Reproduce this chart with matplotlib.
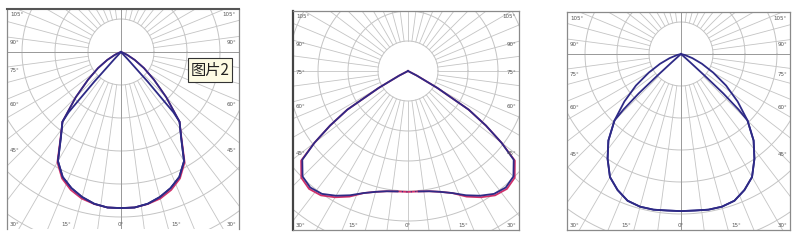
import numpy as np
import matplotlib.pyplot as plt

plt.rcParams['font.family'] = ['Noto Sans CJK SC', 'DejaVu Sans']

# luminous intensity, cd/klm, half-curves (symmetric), angle from nadir in degrees
p1_ang_a = [0, 5, 10, 15, 20, 25, 30, 35, 40, 45, 50, 55, 60, 65, 70, 75, 90]
p1_val_a = [473, 473, 467, 455, 439, 418, 382, 318, 276, 194, 130, 85, 48, 21, 6, 0, 0]
p1_ang_b = [0, 5, 10, 15, 20, 25, 30, 35, 40, 41, 42, 43, 45, 90]
p1_val_b = [473, 473, 467, 455, 439, 418, 382, 318, 276, 242, 121, 30, 0, 0]
p1_ang_r = [0, 5, 10, 15, 20, 25, 30, 35, 40, 45, 50, 55, 60, 65, 70, 75, 90]
p1_val_r = [473, 473, 468, 460, 445, 423, 386, 320, 276, 194, 130, 85, 48, 21, 6, 0, 0]

p2_ang = [0, 5, 10, 15, 20, 25, 30, 35, 40, 45, 50, 52.5, 55, 57.5, 60, 62.5, 65, 90]
p2_val = [403, 403, 407, 417, 433, 457, 480, 500, 507, 497, 460, 393, 317, 240, 113, 33, 0, 0]
p2_val_r = [403, 403, 407, 417, 433, 462, 486, 506, 513, 503, 465, 393, 317, 240, 113, 33, 0, 0]

p3_ang_a = [0, 5, 10, 15, 20, 25, 30, 35, 40, 45, 50, 55, 60, 65, 70, 75, 80, 90]
p3_val_a = [491, 491, 494, 494, 488, 469, 444, 400, 353, 294, 231, 172, 116, 72, 38, 13, 0, 0]
p3_ang_b = [0, 5, 10, 15, 20, 25, 30, 35, 40, 45, 46, 47, 47.5, 48, 49, 90]
p3_val_b = [491, 491, 494, 494, 488, 469, 444, 400, 353, 294, 250, 181, 106, 38, 0, 0]

left_labels = ['105°', '90°', '75°', '60°', '45°']
bottom_labels = ['30°', '15°', '0°', '15°', '30°']

W, H = 800, 245
NAVY = '#2e2a86'
RED = '#d0306a'
GRID = '#c4c4c4'
STEP = 100


def mirror(ang, val):
    ang = np.asarray(ang, float)
    val = np.asarray(val, float)
    return np.concatenate([-ang[::-1], ang[1:]]), np.concatenate([val[::-1], val[1:]])


def to_xy(ang, val):
    t = np.radians(ang)
    return val * np.sin(t), -val * np.cos(t)


def make_panel(box, center, ppu, cross, skip_right=()):
    x0, y0, x1, y1 = box
    cx, cy = center
    ax = fig.add_axes([x0 / W, 1 - y1 / H, (x1 - x0) / W, (y1 - y0) / H])
    k = STEP / ppu
    ax.set_xlim((x0 - cx) * k, (x1 - cx) * k)
    ax.set_ylim((cy - y1) * k, (cy - y0) * k)
    ax.set_xticks([])
    ax.set_yticks([])
    t = np.linspace(0, 2 * np.pi, 361)
    for n in range(1, 9):
        ax.plot(n * STEP * np.cos(t), n * STEP * np.sin(t), color=GRID, lw=0.7, zorder=1)
    for a in np.arange(0, 360, 7.5):
        ar = np.radians(a)
        ax.plot([STEP * np.sin(ar), 10 * STEP * np.sin(ar)],
                [-STEP * np.cos(ar), -10 * STEP * np.cos(ar)], color=GRID, lw=0.6, zorder=1)
    if cross:
        ax.axhline(0, color='#9a9a9a', lw=0.7, zorder=1)
        ax.axvline(0, color='#9a9a9a', lw=0.7, zorder=1)
    for s in ax.spines.values():
        s.set_color('#8a8a8a')
        s.set_linewidth(0.9)
    # angle labels on the frame
    for i, (lab, yy) in enumerate(zip(left_labels, [15, 42, 71, 104, 151])):
        fig.text((x0 + 3) / W, 1 - (y0 + yy - 9) / H, lab, fontsize=4, color='#555555',
                 ha='left', va='center', family='DejaVu Sans')
        if i not in skip_right:
            fig.text((x1 - 3) / W, 1 - (y0 + yy - 9) / H, lab, fontsize=4, color='#555555',
                     ha='right', va='center', family='DejaVu Sans')
    bx = [x0 + 3, cx - 55, cx, cx + 55, x1 - 3]
    for lab, xx, ha in zip(bottom_labels, bx, ['left', 'center', 'center', 'center', 'right']):
        fig.text(xx / W, 1 - (y1 - 5) / H, lab, fontsize=4, color='#555555',
                 ha=ha, va='center', family='DejaVu Sans')
    return ax


fig = plt.figure(figsize=(W / 100, H / 100), dpi=100)

# panel 1
ax1 = make_panel((7, 9, 239, 229), (121, 52), 33, True, skip_right=(2,))
ax1.spines['bottom'].set_visible(False)
ax1.spines['top'].set_color('#555555')
ax1.spines['top'].set_linewidth(1.5)
ax1.plot(*to_xy(*mirror(p1_ang_r, p1_val_r)), color=RED, lw=1.2, zorder=3)
ax1.plot(*to_xy(*mirror(p1_ang_a, p1_val_a)), color=NAVY, lw=1.3, zorder=4)
ax1.plot(*to_xy(*mirror(p1_ang_b, p1_val_b)), color=NAVY, lw=1.3, zorder=4)
fig.text(210 / W, 1 - 70 / H, '图片2', fontsize=11, color='#222222', ha='center', va='center',
         bbox=dict(boxstyle='square,pad=0.2', fc='#fdfbe3', ec='#333333', lw=0.8))

# panel 2
ax2 = make_panel((293, 11, 519, 230), (408, 71), 30, False)
ax2.spines['left'].set_color('#444444')
ax2.spines['left'].set_linewidth(1.6)
ang2, val2 = mirror(p2_ang, p2_val)
_, val2r = mirror(p2_ang, p2_val_r)
x2r, y2r = to_xy(ang2, val2r)
ax2.plot(x2r, y2r, color=RED, lw=1.3, zorder=3)
x2, y2 = to_xy(ang2, val2)
mid = np.abs(ang2) <= 5
for side in (ang2 <= -5, ang2 >= 5):
    ax2.plot(x2[side], y2[side], color=NAVY, lw=1.3, zorder=4)
ax2.plot(x2[mid], y2[mid], color=NAVY, lw=0.8, ls=(0, (1, 3)), zorder=4)

# panel 3
ax3 = make_panel((567, 12, 790, 230), (681, 54), 32, True)
ax3.plot(*to_xy(*mirror(p3_ang_a, p3_val_a)), color=NAVY, lw=1.3, zorder=4)
ax3.plot(*to_xy(*mirror(p3_ang_b, p3_val_b)), color=NAVY, lw=1.3, zorder=4)

fig.savefig('out.png', dpi=100)
